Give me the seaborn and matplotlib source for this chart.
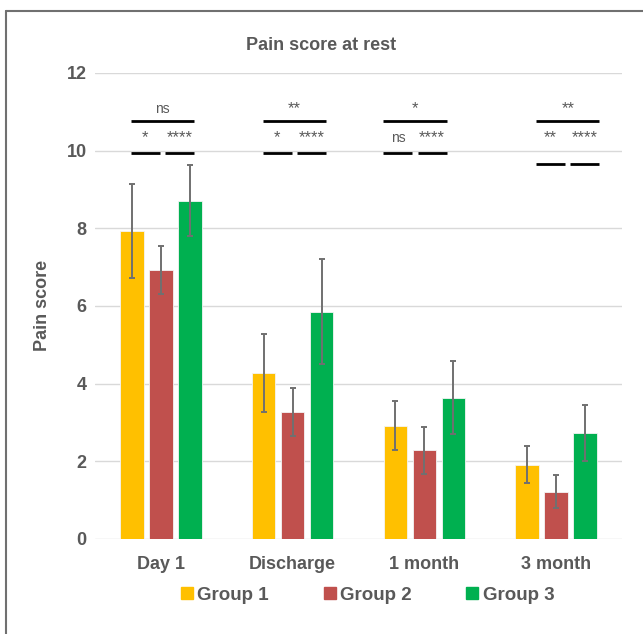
import matplotlib
matplotlib.use('Agg')
import matplotlib.pyplot as plt
from matplotlib.lines import Line2D
import seaborn as sns
import pandas as pd
import numpy as np

# data
timepoints = ['Day 1', 'Discharge', '1 month', '3 month']
groups = ['Group 1', 'Group 2', 'Group 3']
group1_mean = [7.93, 4.28, 2.92, 1.91]
group2_mean = [6.93, 3.27, 2.28, 1.22]
group3_mean = [8.71, 5.85, 3.64, 2.72]
group1_err = [1.21, 1.00, 0.62, 0.48]
group2_err = [0.62, 0.62, 0.61, 0.43]
group3_err = [0.91, 1.35, 0.93, 0.72]
sig_top = ['ns', '**', '*', '**']
sig_left = ['*', '*', 'ns', '**']
sig_right = ['****', '****', '****', '****']

colors = ['#FFC000', '#C0504D', '#00B050']
grey = '#595959'

rows = []
for g, means, errs in zip(groups, [group1_mean, group2_mean, group3_mean],
                          [group1_err, group2_err, group3_err]):
    for t, m, e in zip(timepoints, means, errs):
        rows.append({'Time': t, 'Group': g, 'Score': m, 'Err': e})
df = pd.DataFrame(rows)

sns.set_theme(style='white')
plt.rcParams['font.family'] = ['Liberation Sans', 'DejaVu Sans']

fig = plt.figure(figsize=(6.43, 6.34), dpi=100)
ax = fig.add_axes([0.148, 0.150, 0.819, 0.735])

sns.barplot(data=df, x='Time', y='Score', hue='Group', palette=colors, saturation=1,
            errorbar=None, width=0.66, gap=0.2, ax=ax, legend=False,
            edgecolor='#f4f4f4', linewidth=0.6, zorder=3)

# error bars at the centres of the drawn bars
for i, g in enumerate(groups):
    sub = df[df.Group == g]
    bars = ax.patches[i * len(timepoints):(i + 1) * len(timepoints)]
    xs = [b.get_x() + b.get_width() / 2 for b in bars]
    ax.errorbar(xs, sub.Score.values, yerr=sub.Err.values, fmt='none',
                ecolor='#707070', elinewidth=1.4, capsize=2.5, capthick=1.4, zorder=4)

ax.set_ylim(0, 12)
ax.set_xlim(-0.5, 3.5)
ax.set_yticks(range(0, 13, 2))
ax.yaxis.grid(True, color='#D9D9D9', linewidth=1)
ax.set_axisbelow(True)
for s in ax.spines.values():
    s.set_visible(False)
ax.tick_params(axis='both', length=0, labelsize=13, labelcolor=grey, pad=6)
ax.tick_params(axis='x', pad=12)
for lab in ax.get_xticklabels() + ax.get_yticklabels():
    lab.set_fontweight('bold')
ax.set_xlabel('')
ax.set_ylabel('Pain score', fontsize=13, fontweight='bold', color=grey, labelpad=11)


def sig_size(s):
    return 12 if '*' in s else 10


# significance brackets (positions tweaked per timepoint like the original)
shift = [0.012, 0.012, -0.07, 0.09]
low_y = [9.93, 9.93, 9.93, 9.66]
for k in range(len(timepoints)):
    c = k + shift[k]
    ax.plot([c - 0.24, c + 0.24], [10.75, 10.75], color='black', lw=2, solid_capstyle='butt', zorder=5)
    ax.plot([c - 0.24, c - 0.02], [low_y[k]] * 2, color='black', lw=2, solid_capstyle='butt', zorder=5)
    ax.plot([c + 0.02, c + 0.24], [low_y[k]] * 2, color='black', lw=2, solid_capstyle='butt', zorder=5)
    ax.text(c, 11.08, sig_top[k], ha='center', va='center', fontsize=sig_size(sig_top[k]), color=grey)
    ax.text(c - 0.13, 10.33, sig_left[k], ha='center', va='center', fontsize=sig_size(sig_left[k]), color=grey)
    ax.text(c + 0.13, 10.33, sig_right[k], ha='center', va='center', fontsize=sig_size(sig_right[k]), color=grey)

fig.text(0.5, 0.929, 'Pain score at rest', ha='center', va='center', fontsize=13,
         fontweight='bold', color=grey)

handles = [Line2D([], [], marker='s', linestyle='', markersize=8, color=c) for c in colors]
leg = fig.legend(handles, groups, loc='center', bbox_to_anchor=(0.569, 0.061), ncol=3,
                 frameon=False, handletextpad=0.05, columnspacing=2.75, handlelength=1.0,
                 prop={'size': 13.5, 'weight': 'bold'})
for t in leg.get_texts():
    t.set_color(grey)

# outer frame, as in the reference screenshot
fig.add_artist(Line2D([6 / 643, 6 / 643], [0, 1 - 11 / 634], color='#707070', lw=1.5))
fig.add_artist(Line2D([6 / 643, 1], [1 - 11 / 634, 1 - 11 / 634], color='#707070', lw=1.5))

fig.savefig('out.png', dpi=100)
